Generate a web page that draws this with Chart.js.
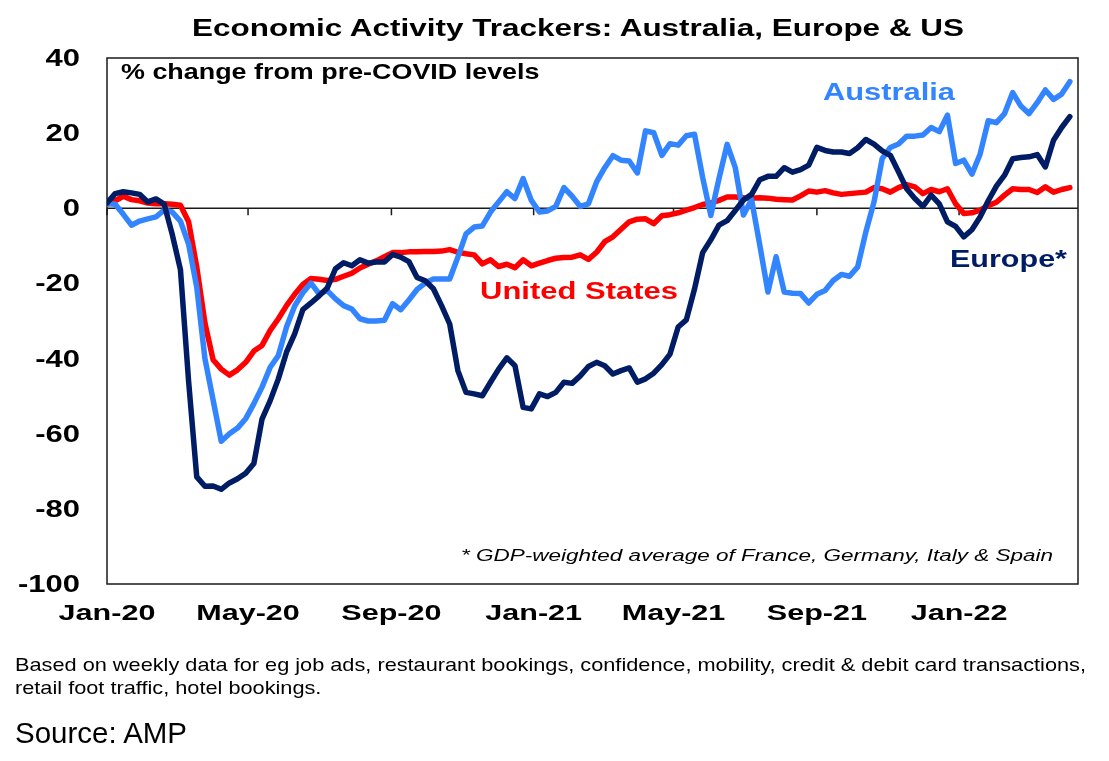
<!DOCTYPE html>
<html>
<head>
<meta charset="utf-8">
<title>Economic Activity Trackers</title>
<script src="https://cdn.jsdelivr.net/npm/chart.js@4.4.1/dist/chart.umd.min.js"></script>
<style>
  html, body { margin: 0; padding: 0; background: #fff; }
  #wrap { position: relative; width: 1109px; height: 761px; overflow: hidden; }
  #box { position: absolute; left: 0; top: 0; width: 1109px; height: 761px; }
  .lbl { position: absolute; white-space: nowrap; line-height: 1; transform-origin: 0 0;
         font-family: "Liberation Sans", Arial, sans-serif; color: #000; }
  .b { font-weight: bold; }
</style>
</head>
<body>
<div id="wrap">
  <div id="box"><canvas id="chart"></canvas></div>
  <div class="lbl b" id="title" style="font-size:23px">Economic Activity Trackers: Australia, Europe &amp; US</div>
  <div class="lbl b" id="subtitle" style="font-size:21.5px">% change from pre-COVID levels</div>
  <div class="lbl b" id="ausLabel" style="font-size:23.3px;color:#3385ff">Australia</div>
  <div class="lbl b" id="eurLabel" style="font-size:23.3px;color:#001c64">Europe*</div>
  <div class="lbl b" id="usLabel" style="font-size:23.3px;color:#ff0000">United States</div>
  <div class="lbl" id="footnote" style="font-size:17.2px;font-style:italic">* GDP-weighted average of France, Germany, Italy &amp; Spain</div>
  <div class="lbl" id="note1" style="font-size:18.6px">Based on weekly data for eg job ads, restaurant bookings, confidence, mobility, credit &amp; debit card transactions,</div>
  <div class="lbl" id="note2" style="font-size:18.6px">retail foot traffic, hotel bookings.</div>
  <div class="lbl" id="source" style="font-size:28.9px">Source: AMP</div>
</div>
<script>
// weekly readings, % change from pre-COVID levels (first week = start of Jan 2020)
var australia = [
  1.2, 1.1, -1.6, -4.5, -3.4, -2.8, -2.3, -0.5, -1.0, -3.4,
  -9.5, -21, -40, -51, -62, -60, -58.5, -56, -52, -47.6,
  -42.3, -39.2, -31.6, -26, -22.5, -19.9, -22.8, -21.9, -24.1, -25.9,
  -26.8, -29.4, -30, -30, -29.8, -25.4, -27, -24.4, -21.6, -19.9,
  -18.8, -18.8, -18.8, -13, -6.8, -5, -4.7, -1, 1.7, 4.4,
  2.6, 7.9, 2.1, -1, -0.7, 0.5, 5.5, 3.2, 0.5, 1.2,
  7, 10.8, 14, 12.8, 12.6, 9.4, 20.6, 20.1, 14.1, 17.2,
  16.8, 19.3, 19.7, 8.2, -1.9, 7.9, 17, 10.8, -1.8, 2.3,
  -9.8, -22.3, -12.9, -22.3, -22.6, -22.7, -25.2, -22.9, -21.9, -19.2,
  -17.6, -18.1, -15.6, -6.3, 1.7, 13.2, 16.2, 17.1, 19.2, 19.2,
  19.5, 21.5, 20.4, 24.8, 11.9, 12.8, 9.1, 14.4, 23.3, 22.8,
  25.2, 30.8, 27.2, 25.2, 28.1, 31.5, 29, 30.4, 33.7
];
var europe = [
  1.4, 3.9, 4.4, 4.1, 3.7, 1.7, 2.5, 1.1, -7, -16.3,
  -46, -71.5, -74, -73.9, -74.8, -73.1, -72, -70.5, -67.9, -56.1,
  -51.2, -45.4, -38.3, -33.4, -27, -25.2, -23.3, -21.2, -16.1, -14.5,
  -15.3, -13.7, -14.6, -14.3, -14.3, -12.3, -13, -14.2, -18.4, -19.3,
  -21.4, -25.9, -30.8, -43.2, -49, -49.4, -49.9, -46.3, -42.8, -39.8,
  -41.9, -53, -53.4, -49.4, -50.1, -49, -46.3, -46.6, -44.6, -42.1,
  -41, -41.9, -44.1, -43.2, -42.5, -46.3, -45.4, -43.9, -41.6, -38.8,
  -31.6, -29.7, -21.5, -11.8, -8.4, -4.5, -3.3, -0.6, 2.2, 3.7,
  7.6, 8.5, 8.5, 10.8, 9.6, 10.3, 11.5, 16.2, 15.4, 15,
  15, 14.6, 16.1, 18.3, 17.1, 15.3, 14.1, 9.7, 5.2, 2.6,
  0.5, 3.5, 1.2, -3.6, -4.8, -7.6, -5.7, -2.3, 2, 5.9,
  8.8, 13.2, 13.5, 13.7, 14.3, 11, 18.1, 21.5, 24.4
];
var unitedStates = [
  1.1, 2.0, 3.2, 2.3, 2.0, 1.4, 1.2, 1.2, 1.1, 0.8,
  -3.6, -15.6, -30.5, -40.3, -42.8, -44.4, -43, -41, -38, -36.5,
  -32.5, -29.4, -25.9, -22.9, -20.3, -18.7, -18.9, -19.2, -18.9, -18.1,
  -17.3, -15.9, -14.9, -14, -12.9, -11.8, -11.8, -11.6, -11.6, -11.5,
  -11.5, -11.4, -11, -11.7, -12.1, -12.4, -14.8, -13.7, -15.5, -14.9,
  -15.8, -13.7, -15.3, -14.6, -13.9, -13.3, -13.1, -13, -12.4, -13.6,
  -11.7, -8.9, -7.6, -5.6, -3.6, -2.9, -2.8, -4.1, -2, -1.7,
  -1.2, -0.5, 0.2, 1, 1.4, 2.1, 3, 3, 2.8, 2.7,
  2.8, 2.7, 2.4, 2.3, 2.2, 3.3, 4.6, 4.3, 4.7, 4.1,
  3.7, 3.9, 4.1, 4.3, 5.5, 5.2, 4.3, 5.5, 6.3, 5.7,
  3.9, 5, 4.4, 5.2, 1.2, -1.4, -1.2, -0.5, 0.7, 1.6,
  3.5, 5.2, 5, 5, 4.2, 5.7, 4.3, 5, 5.5
];

// x axis in days since 1 Jan 2020, one reading per week
var weekDays = australia.map(function(v, i) { return i * 7; });
var tickDays = [0, 121, 244, 366, 486, 609, 731];
var tickLabels = ["Jan-20", "May-20", "Sep-20", "Jan-21", "May-21", "Sep-21", "Jan-22"];
var yTicks = [40, 20, 0, -20, -40, -60, -80, -100];

function toPoints(values) {
  return values.map(function(v, i) { return { x: weekDays[i], y: v }; });
}

// texto estirado en horizontal, como en la imagen original
function stretchText(ctx, text, x, y, sx, align) {
  ctx.save();
  ctx.translate(x, y);
  ctx.scale(sx, 1);
  ctx.textAlign = align;
  ctx.fillText(text, 0, 0);
  ctx.restore();
}

var frameAndAxes = {
  id: "frameAndAxes",
  beforeDatasetsDraw: function(chart) {
    var ctx = chart.ctx;
    var a = chart.chartArea;
    var x = chart.scales.x;
    var y = chart.scales.y;
    ctx.save();
    ctx.strokeStyle = "#1a1a1a";
    ctx.lineWidth = 1.5;
    ctx.strokeRect(a.left, a.top, a.right - a.left, a.bottom - a.top);
    var y0 = y.getPixelForValue(0);
    ctx.beginPath();
    ctx.moveTo(a.left, y0);
    ctx.lineTo(a.right, y0);
    tickDays.forEach(function(d) {
      var px = x.getPixelForValue(d);
      ctx.moveTo(px, y0);
      ctx.lineTo(px, y0 + 7);
    });
    ctx.stroke();
    ctx.restore();
  },
  afterDraw: function(chart) {
    var ctx = chart.ctx;
    var x = chart.scales.x;
    var y = chart.scales.y;
    ctx.save();
    ctx.fillStyle = "#000";
    ctx.textBaseline = "alphabetic";
    ctx.font = "bold 23.3px 'Liberation Sans', Arial, sans-serif";
    yTicks.forEach(function(v) {
      stretchText(ctx, String(v), 80, y.getPixelForValue(v) + 8, 1.33, "right");
    });
    ctx.font = "bold 22.3px 'Liberation Sans', Arial, sans-serif";
    tickDays.forEach(function(d, i) {
      stretchText(ctx, tickLabels[i], x.getPixelForValue(d), 620, 1.37, "center");
    });
    ctx.restore();
  }
};

var chartCanvas = document.getElementById("chart");

var activityChart = new Chart(chartCanvas, {
  type: "line",
  data: {
    datasets: [{
      label: "Europe*",
      data: toPoints(europe),
      borderColor: "#001c64"
    }, {
      label: "Australia",
      data: toPoints(australia),
      borderColor: "#3385ff"
    }, {
      label: "United States",
      data: toPoints(unitedStates),
      borderColor: "#ff0000"
    }]
  },
  options: {
    responsive: true,
    maintainAspectRatio: false,
    animation: false,
    layout: { padding: { left: 107, top: 58, right: 31, bottom: 177 } },
    plugins: {
      legend: { display: false },
      tooltip: { enabled: false }
    },
    elements: {
      point: { radius: 0 },
      line: { borderWidth: 5.5, tension: 0, borderJoinStyle: "round", borderCapStyle: "round", fill: false }
    },
    scales: {
      x: { type: "linear", display: false, min: 0, max: 833 },
      y: { type: "linear", display: false, min: -100, max: 40 }
    }
  },
  plugins: [frameAndAxes]
});

// Etiquetas de texto: posicion y ancho como en el original
var notes = [
  { id: "title", left: 192, right: 964, base: 36.7 },
  { id: "subtitle", left: 120.5, right: 539, base: 80 },
  { id: "ausLabel", left: 823, right: 955, base: 101 },
  { id: "eurLabel", left: 950, right: 1067, base: 268 },
  { id: "usLabel", left: 480, right: 678, base: 300 },
  { id: "footnote", left: 461, right: 1053, base: 562 },
  { id: "note1", left: 15, right: 1086, base: 671.7 },
  { id: "note2", left: 15, right: null, base: 695 },
  { id: "source", left: 15, right: 187, base: 743 }
];
var lastScale = 1;
notes.forEach(function(n) {
  var el = document.getElementById(n.id);
  var size = parseFloat(getComputedStyle(el).fontSize);
  el.style.left = n.left + "px";
  el.style.top = (n.base - 0.8465 * size) + "px";
  var w = el.getBoundingClientRect().width;
  var sx = n.right === null ? lastScale : (n.right - n.left) / w;
  lastScale = sx;
  el.style.transform = "scaleX(" + sx + ")";
});
</script>
</body>
</html>
